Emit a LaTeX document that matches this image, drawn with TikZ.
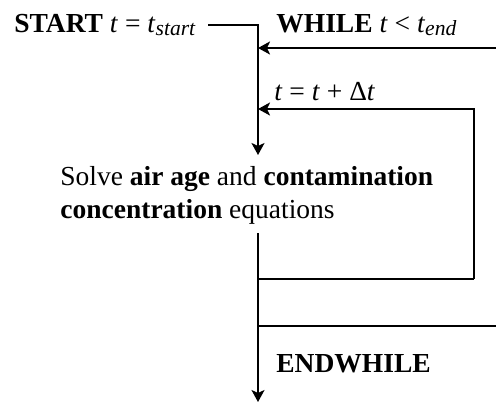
\documentclass[tikz,border=0pt]{standalone}
\usepackage{fontspec}
\setmainfont{Liberation Serif}
\usetikzlibrary{arrows.meta}
\newcommand{\lowidx}[1]{\raisebox{-0.3ex}{\fontsize{10.8}{12}\selectfont\textit{#1}}}

\begin{document}
\begin{tikzpicture}[x=0.5pt,y=-0.5pt,line cap=butt,line join=miter,
  lbl/.style={inner sep=0pt,font=\fontsize{13.75}{16.5}\selectfont},
  wire/.style={line width=1pt},
  flow/.style={wire,-{Stealth[length=6pt,width=6.5pt,inset=1.5pt]}}]
  \useasboundingbox (0,0) rectangle (496,403);
  % labels
  \node[lbl,anchor=base west] (start) at (14,32) {\textbf{START} \textit{t} = \textit{t}\lowidx{start}};
  \node[lbl,anchor=base west] (while) at (276,32) {\textbf{WHILE} \textit{t} < \textit{t}\lowidx{end}};
  \node[lbl,anchor=base west] (incr) at (274,100) {\textit{t} = \textit{t} + Δ\textit{t}};
  \node[lbl,anchor=north west,align=left] (solve) at (60,166) {Solve \textbf{air age} and \textbf{contamination}\\\textbf{concentration} equations};
  \node[lbl,anchor=base west] (endw) at (276,372) {\textbf{ENDWHILE}};
  % corners of the loop
  \coordinate (spine) at (258,25);
  \coordinate (intop) at (258,155);
  \coordinate (outtop) at (258,233);
  \coordinate (loopin) at (496,48);
  \coordinate (stepr) at (474,109);
  \coordinate (stepb) at (474,279);
  \coordinate (exitr) at (496,326);
  \coordinate (stop) at (258,402);
  % connectors
  \draw[flow] ([xshift=6pt]start.east |- spine) -- (spine) -- (intop);
  \draw[flow] (loopin) -- (loopin -| spine);
  \draw[flow] (stepb) -- (stepr) -- (stepr -| spine);
  \draw[wire] (stepb -| spine) -- (stepb);
  \draw[wire] (exitr -| spine) -- (exitr);
  \draw[flow] (outtop) -- (stop);
\end{tikzpicture}
\end{document}
